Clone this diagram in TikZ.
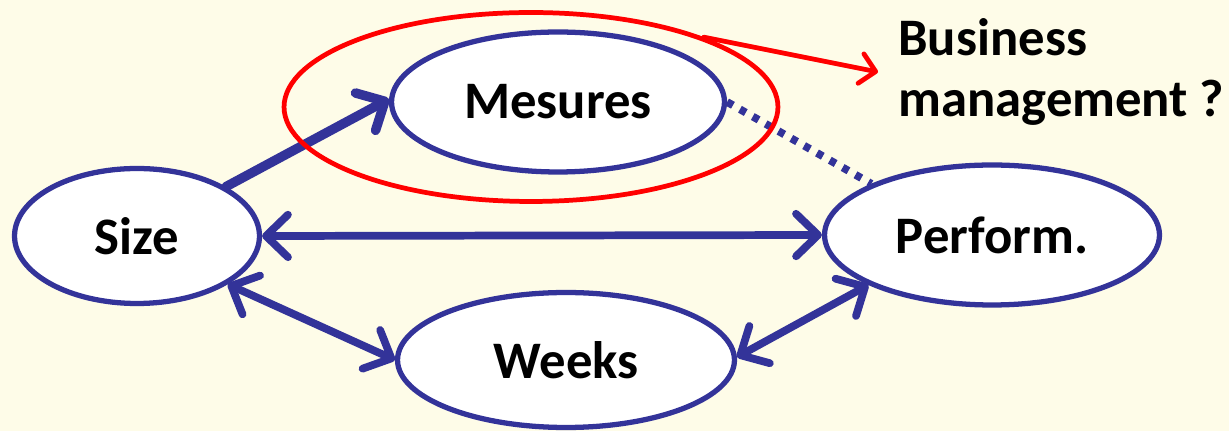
\documentclass[tikz,border=0pt]{standalone}
\usepackage{fontspec}
\setmainfont{Carlito}
\usetikzlibrary{arrows.meta, shapes.geometric}
\definecolor{paper}{HTML}{FEFCE8}
\definecolor{ink}{HTML}{333399}
\definecolor{alarm}{HTML}{FF0000}

\begin{document}
\begin{tikzpicture}[x=0.02cm, y=-0.02cm,
    blob/.style={ellipse, draw=ink, fill=white, line width=3pt, inner sep=0pt, font=\fontsize{30pt}{35pt}\selectfont\bfseries},
    link/.style={draw=ink, line width=4.4pt, line cap=round},
    onehead/.style={-{Straight Barb[length=0.44cm, width=0.85cm, round]}},
    twohead/.style={{Straight Barb[length=0.44cm, width=0.85cm, round]}-{Straight Barb[length=0.44cm, width=0.85cm, round]}}]
        % Background
        \fill [paper] (0,0) rectangle (1229,431);
        \useasboundingbox (0,0) rectangle (1229,431);

        % Ellipses
        \node (mesures) [blob, minimum width=6.66cm, minimum height=2.8cm] at (558,102) {Mesures};
        \node (size) [blob, minimum width=4.9cm, minimum height=2.7cm] at (137,236) {Size};
        \node (perform) [blob, minimum width=6.7cm, minimum height=2.8cm] at (992,235) {Perform.};
        \node (weeks) [blob, minimum width=6.74cm, minimum height=2.7cm] at (566,360) {Weeks};

        % Links
        \draw [link, onehead, line width=5.4pt] (size.29) -- (mesures.179);
        \draw [link, twohead] (size.east) -- (perform.west);
        \draw [link, twohead] (size.-28) -- (weeks.west);
        \draw [link, twohead] (weeks.1) -- (perform.202);
        \draw [link, line cap=butt, dash pattern=on 3.8pt off 4.6pt] (mesures.east) -- (perform.157);

        % Business management
        \node (focus) [ellipse, draw=alarm, line width=2.7pt, minimum width=9.88cm, minimum height=3.78cm] at (531,107) {};
        \node (business) [anchor=west, align=left, inner xsep=0.4cm, inner ysep=0pt, font=\fontsize{30pt}{35pt}\selectfont\bfseries] at (878,72) {Business\\management ?};
        \draw [alarm, line width=2.7pt, line cap=round, -{Straight Barb[length=0.3cm, width=0.6cm, round]}] (focus.22) -- (business.west);
\end{tikzpicture}
\end{document}
